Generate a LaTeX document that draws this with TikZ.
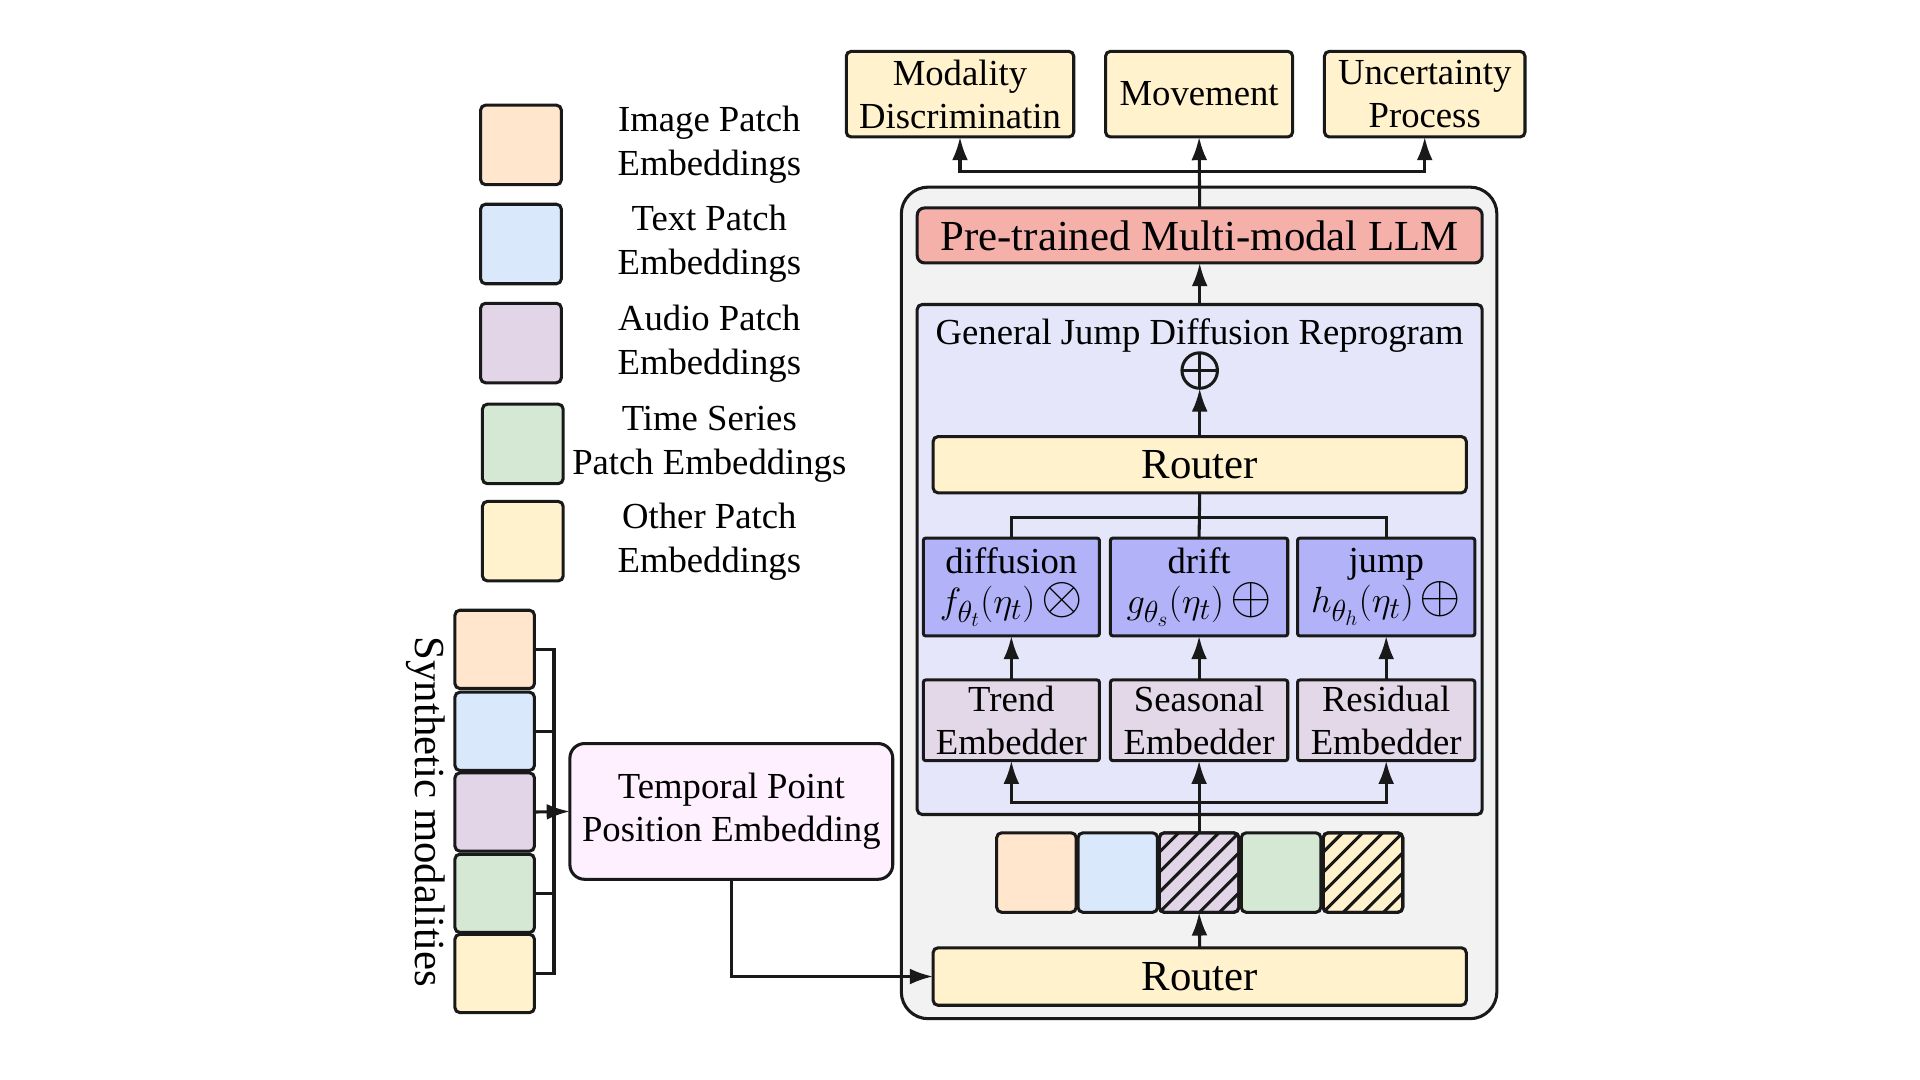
\documentclass[tikz,border=0pt]{standalone}
\usepackage{fontspec}
\setmainfont{Liberation Serif}
\usetikzlibrary{arrows.meta,calc}
\definecolor{cPeach}{RGB}{255,230,204}
\definecolor{cBlue}{RGB}{218,232,252}
\definecolor{cPurple}{RGB}{225,213,231}
\definecolor{cGreen}{RGB}{213,232,212}
\definecolor{cYellow}{RGB}{255,242,204}
\definecolor{cOuter}{RGB}{242,242,242}
\definecolor{cLLM}{RGB}{244,176,169}
\definecolor{cGJD}{RGB}{230,230,250}
\definecolor{cFunc}{RGB}{178,178,248}
\definecolor{cEmb}{RGB}{227,216,232}
\definecolor{cTPPE}{RGB}{255,240,255}
\definecolor{cLine}{RGB}{25,25,25}
\begin{document}
\begin{tikzpicture}[x=1pt,y=-1pt,line width=2.5pt,draw=cLine,
  box/.style={draw=cLine,rounded corners=4pt,inner sep=0pt,outer sep=0pt,align=center,
    font=\fontsize{30}{35}\selectfont},
  bigtext/.style={font=\fontsize{35}{40}\selectfont},
  legtext/.style={align=center,inner sep=0pt,font=\fontsize{30}{36}\selectfont},
  patch/.style={draw=cLine,rounded corners=4pt,inner sep=0pt,outer sep=0pt,minimum width=65,minimum height=65},
  arr/.style={-{Latex[length=19pt,width=13pt]}}]
\useasboundingbox (0,0) rectangle (1570,883);

% ---------- legend ----------
\node[patch,fill=cPeach,minimum width=66] (l1) at (426,118.5) {};
\node[patch,fill=cBlue,minimum width=66] (l2) at (426,199.5) {};
\node[patch,fill=cPurple,minimum width=66] (l3) at (426,280.5) {};
\node[patch,fill=cGreen,minimum width=66] (l4) at (427.5,363) {};
\node[patch,fill=cYellow,minimum width=66] (l5) at (427.5,442.5) {};
\node[legtext] (t1) at (580,118) {Image Patch\\Embeddings};
\node[legtext] (t2) at (580,199) {Text Patch\\Embeddings};
\node[legtext] (t3) at (580,281) {Audio Patch\\Embeddings};
\node[legtext] (t4) at (580,363) {Time Series\\Patch Embeddings};
\node[legtext] (t5) at (580,443) {Other Patch\\Embeddings};

% ---------- synthetic modalities ----------
\node[patch,fill=cPeach,minimum height=64] (s1) at (404.5,531) {};
\node[patch,fill=cBlue,minimum height=64] (s2) at (404.5,598) {};
\node[patch,fill=cPurple,minimum height=64] (s3) at (404.5,664) {};
\node[patch,fill=cGreen,minimum height=64] (s4) at (404.5,730.5) {};
\node[patch,fill=cYellow,minimum height=64] (s5) at (404.5,796) {};
\node[rotate=-90,inner sep=0pt,font=\fontsize{35}{40}\selectfont] (synth) at (348,664) {Synthetic modalities};
\coordinate (bx) at (453,664);

\node[box,fill=cTPPE,rounded corners=12pt,minimum width=264,minimum height=111] (tppe) at (598,663.5) {Temporal Point\\Position Embedding};

\draw (s1.east) -- (s1.east -| bx) -- (s5.east -| bx) -- (s5.east);
\draw (s2.east) -- (s2.east -| bx);
\draw (s4.east) -- (s4.east -| bx);
\draw[arr] (s3.east) -- (tppe.west);

% ---------- outer block ----------
\node[draw=cLine,fill=cOuter,rounded corners=22pt,inner sep=0pt,outer sep=0pt,minimum width=487,minimum height=680] (outer) at (980.5,493) {};

\node[box,bigtext,fill=cLLM,rounded corners=6pt,minimum width=462,minimum height=45] (llm) at (981,192.5) {Pre-trained Multi-modal LLM};

\node[box,fill=cGJD,minimum width=462,minimum height=417] (gjd) at (981,457.5) {};
\node[inner sep=0pt,font=\fontsize{30}{35}\selectfont] (gjdt) at (981,274) {General Jump Diffusion Reprogram};
\node[circle,draw=cLine,line width=2.5pt,minimum size=29,inner sep=0pt,outer sep=0pt] (op) at (981,303) {};
\draw (op.north) -- (op.south) (op.west) -- (op.east);

\node[box,bigtext,fill=cYellow,minimum width=436,minimum height=46] (r1) at (981,380) {Router};

\node[box,fill=cFunc,rounded corners=2pt,minimum width=144,minimum height=80] (fdiff) at (827,480)
  {diffusion\\[-2pt] \scalebox{1.2}{$f_{\theta_t}(\eta_t)$}\,\scalebox{1.75}{$\otimes$}};
\node[box,fill=cFunc,rounded corners=2pt,minimum width=145,minimum height=80] (fdrift) at (980.5,480)
  {drift\\[-2pt] \scalebox{1.2}{$g_{\theta_s}(\eta_t)$}\,\scalebox{1.75}{$\oplus$}};
\node[box,fill=cFunc,rounded corners=2pt,minimum width=145,minimum height=80] (fjump) at (1133.5,480)
  {jump\\[-2pt] \scalebox{1.2}{$h_{\theta_h}(\eta_t)$}\,\scalebox{1.75}{$\oplus$}};

\node[box,fill=cEmb,rounded corners=2pt,minimum width=144,minimum height=66] (etrend) at (827,589) {Trend\\Embedder};
\node[box,fill=cEmb,rounded corners=2pt,minimum width=145,minimum height=66] (eseas) at (980.5,589) {Seasonal\\Embedder};
\node[box,fill=cEmb,rounded corners=2pt,minimum width=145,minimum height=66] (eres) at (1133.5,589) {Residual\\Embedder};

% ---------- patches ----------
\node[patch,fill=cPeach] (p1) at (847.5,713.5) {};
\node[patch,fill=cBlue] (p2) at (914,713.5) {};
\node[patch,fill=cPurple] (p3) at (980.5,713.5) {};
\node[patch,fill=cGreen] (p4) at (1047.5,713.5) {};
\node[patch,fill=cYellow] (p5) at (1114.5,713.5) {};
\foreach \p in {p3,p5}{
  \begin{scope}
    \clip[rounded corners=4pt] (\p.south west) rectangle (\p.north east);
    \foreach \k in {-4,...,4}{
      \draw ($(\p.south west)+(\k*16.4,0)$) -- ++(80,-80);
    }
  \end{scope}
  \draw[rounded corners=4pt] (\p.south west) rectangle (\p.north east);
}

\node[box,bigtext,fill=cYellow,minimum width=436,minimum height=47] (r2) at (981,798.5) {Router};

% ---------- outputs ----------
\node[box,fill=cYellow,minimum width=186,minimum height=70] (mod) at (785,77) {Modality\\Discriminatin};
\node[box,fill=cYellow,minimum width=153,minimum height=70] (mov) at (980.5,77) {Movement};
\node[box,fill=cYellow,minimum width=164,minimum height=70] (unc) at (1165,77) {Uncertainty\\Process};

% ---------- connectors ----------
\coordinate (j) at (980.5,140);
\draw[arr] (llm.north) -- (mov.south);
\draw[arr] (j) -| (mod.south);
\draw[arr] (j) -| (unc.south);
\draw[arr] (gjd.north) -- (llm.south);
\draw[arr] (r1.north) -- (op.south);
\coordinate (rj) at (981,423);
\draw (r1.south) -- (fdrift.north);
\draw (rj) -| (fdiff.north);
\draw (rj) -| (fjump.north);
\draw[arr] (etrend.north) -- (fdiff.south);
\draw[arr] (eseas.north) -- (fdrift.south);
\draw[arr] (eres.north) -- (fjump.south);
\coordinate (bj) at (980.5,656);
\draw[arr] (p3.north) -- (eseas.south);
\draw[arr] (bj) -| (etrend.south);
\draw[arr] (bj) -| (eres.south);
\draw[arr] (r2.north) -- (p3.south);
\draw[arr] (tppe.south) |- (r2.west);
\end{tikzpicture}
\end{document}
